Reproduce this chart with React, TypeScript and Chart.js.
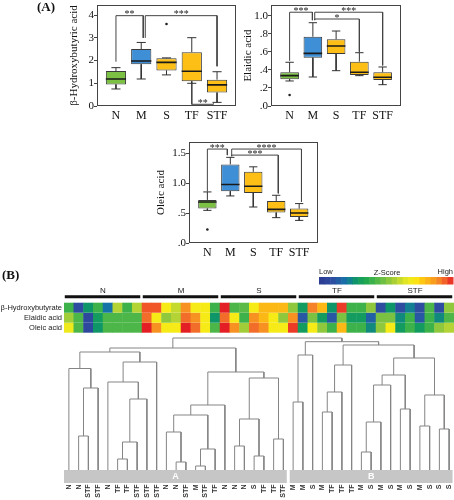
import React, { useEffect, useRef } from 'react';
import { Chart, registerables } from 'chart.js';

Chart.register(...registerables);

const SERIF = '"Liberation Serif", "Times New Roman", serif';
const SANS = '"Liberation Sans", Arial, sans-serif';

// ---------- Part A: box plots ----------
const GROUPS = ['N', 'M', 'S', 'TF', 'STF'];
const BOX_FILL = ['#7cc143', '#3f8fd6', '#fdbf16', '#fdbf16', '#fdbf16'];

// β-Hydroxybutyric acid
const HBA_LOW = [0.75, 1.19, 1.37, 1.0, 0.16];
const HBA_Q1 = [0.95, 1.84, 1.56, 1.09, 0.59];
const HBA_MED = [1.19, 1.98, 1.92, 1.53, 0.93];
const HBA_Q3 = [1.54, 2.51, 2.1, 2.37, 1.16];
const HBA_HIGH = [1.69, 2.8, 2.12, 3.01, 1.51];
const HBA_OUT_X = [2];
const HBA_OUT_Y = [3.61];
const HBA_TICKS = [0, 1, 2, 3, 4];
const HBA_BR_X1 = [0, 1.16, 3];
const HBA_BR_X2 = [1.08, 4, 3.86];
const HBA_BR_Y = [3.98, 3.98, 0.075];
const HBA_BR_END1 = [1.95, 3.0, 1.0];
const HBA_BR_END2 = [3.0, 1.75, 0.12];
const HBA_BR_TEXT = ['**', '***', '**'];

// Elaidic acid
const ELA_LOW = [0.277, 0.321, 0.391, 0.336, 0.236];
const ELA_Q1 = [0.295, 0.535, 0.576, 0.343, 0.288];
const ELA_MED = [0.336, 0.583, 0.664, 0.373, 0.318];
const ELA_Q3 = [0.373, 0.767, 0.738, 0.491, 0.373];
const ELA_HIGH = [0.484, 0.922, 0.83, 0.59, 0.432];
const ELA_OUT_X = [0];
const ELA_OUT_Y = [0.122];
const ELA_TICKS = [0, 0.2, 0.4, 0.6, 0.8, 1.0];
const ELA_BR_X1 = [0, 1.08, 1.08];
const ELA_BR_X2 = [0.98, 4.0, 3.0];
const ELA_BR_Y = [1.038, 1.038, 0.963];
const ELA_BR_END1 = [0.5, 0.95, 0.95];
const ELA_BR_END2 = [0.95, 0.45, 0.6];
const ELA_BR_TEXT = ['***', '***', '*'];

// Oleic acid
const OLE_LOW = [0.546, 0.787, 0.602, 0.424, 0.378];
const OLE_Q1 = [0.575, 0.866, 0.837, 0.508, 0.434];
const OLE_MED = [0.686, 0.978, 0.95, 0.563, 0.501];
const OLE_Q3 = [0.72, 1.314, 1.19, 0.703, 0.575];
const OLE_HIGH = [0.854, 1.432, 1.274, 0.798, 0.659];
const OLE_OUT_X = [0];
const OLE_OUT_Y = [0.227];
const OLE_TICKS = [0, 0.5, 1.0, 1.5];
const OLE_BR_X1 = [0, 1.06, 1.06];
const OLE_BR_X2 = [0.87, 4.1, 3.09];
const OLE_BR_Y = [1.571, 1.571, 1.47];
const OLE_BR_END1 = [0.86, 1.45, 1.45];
const OLE_BR_END2 = [1.47, 0.69, 0.83];
const OLE_BR_TEXT = ['***', '****', '***'];

// ---------- Part B: heatmap + dendrogram ----------
const HEAT_ROWS = ['β-Hydroxybutyrate', 'Elaidic acid', 'Oleic acid'];
const HEAT_GROUPS = ['N', 'M', 'S', 'TF', 'STF'];
const HBA_Z = [
  -0.4, -1.6, -0.9, -0.4, -1.2, 0.3, -0.4, 0.3,
  1.8, 1.8, 0.8, 0.4, 1.5, 0.8, 0.8, -0.4,
  2.0, -0.3, -0.2, 0.8, 1.2, 1.2, 1.2, 0.1,
  -0.8, 1.6, 1.2, -0.9, 1.9, -0.4, -0.4, 0.1,
  -1.6, -0.9, -1.6, -1.1, -1.6, -0.3, -1.6, 0.1,
];
const ELA_Z = [
  0.2, -0.3, -1.7, -0.8, -0.3, -0.3, -0.3, -0.3,
  1.7, 0.8, 0.1, 0.3, 1.7, 1.5, 0.8, -0.9,
  1.7, 0.8, -0.4, 1.5, 1.2, 0.8, 0.1, 1.5,
  -1.5, 0.0, -0.8, -1.5, 0.0, -0.8, -0.8, -1.4,
  0.0, 0.0, -1.0, -0.4, -1.5, -0.4, -1.0, -0.3,
];
const OLE_Z = [
  0.7, -0.3, -1.7, -0.9, -0.3, -0.3, -0.3, -0.3,
  2.0, 1.5, 0.8, 0.8, 2.0, 1.7, 0.8, -0.3,
  2.0, 1.5, 0.2, 1.7, 1.5, 0.8, 0.8, 1.9,
  -0.8, 0.8, 0.1, -0.4, 1.2, -0.4, -0.4, -1.0,
  0.1, 0.8, -0.8, -0.4, -0.8, -0.4, 0.1, 0.3,
];

const LEAF_LABELS = [
  'N', 'N', 'STF', 'STF', 'N', 'TF', 'TF', 'STF', 'STF', 'STF', 'N', 'N', 'STF', 'M', 'STF', 'TF',
  'N', 'N', 'N', 'S', 'TF', 'TF', 'STF',
  'M', 'M', 'S', 'M', 'TF', 'TF', 'TF', 'M', 'S', 'M', 'S', 'M', 'S', 'M', 'S', 'S', 'S',
];
// hclust-style merges: negative = leaf (-(index+1)), positive = earlier merge (1-based)
const MERGE_A = [-2, 1, -1, -6, 4, 5, -5, 7, 3, -12, -11, -14, 12, 11, 14, -18, -20, 16, -22, 18, 15, 9,
  -24, 23, -27, 25, 26, -31, 28, 29, -35, 30, -37, -39, 33, 32, 27, 24, 22];
const MERGE_B = [-3, -4, 2, -7, -8, -9, 6, -10, 8, -13, 10, -15, -16, 13, -17, -19, -21, 17, -23, 19, 20, 21,
  -25, -26, -28, -29, -30, -32, -33, -34, -36, 31, -38, -40, 34, 35, 36, 37, 38];
const MERGE_H = [34, 82, 101.5, 11, 28, 71, 88, 108, 118, 8, 38, 4, 21, 55, 65, 24, 14, 51, 31, 92, 98, 122,
  68, 115, 58, 78, 105, 18, 48, 85, 61, 95, 44, 41, 75, 112, 125, 128.3, 132];
const CLUSTER_NAMES = ['A', 'B'];
const CLUSTER_FIRST = [0, 23];
const CLUSTER_LAST = [22, 39];

// colour scale (style)
const CMAP_Z = [-2.0, -1.6, -1.2, -0.9, -0.6, -0.3, 0.0, 0.3, 0.6, 0.85, 1.1, 1.4, 1.65, 1.85, 2.0];
const CMAP_C = ['#2b3990', '#2e4da1', '#1673a8', '#0f9668', '#1fa84f', '#4cb748', '#7cc242', '#b4d334',
  '#e3e722', '#fbeb14', '#fdc412', '#f9a11b', '#f4792b', '#ef4a26', '#e31e25'];

function hexToRgb(h: string) {
  const n = parseInt(h.slice(1), 16);
  return [(n >> 16) & 255, (n >> 8) & 255, n & 255];
}
function colorFor(z: number) {
  const v = Math.max(CMAP_Z[0], Math.min(CMAP_Z[CMAP_Z.length - 1], z));
  let k = 0;
  while (k < CMAP_Z.length - 2 && v > CMAP_Z[k + 1]) k++;
  const t = (v - CMAP_Z[k]) / (CMAP_Z[k + 1] - CMAP_Z[k]);
  const a = hexToRgb(CMAP_C[k]);
  const b = hexToRgb(CMAP_C[k + 1]);
  const c = a.map((x, i) => Math.round(x + (b[i] - x) * t));
  return `rgb(${c[0]},${c[1]},${c[2]})`;
}

const decFmt = (v: number) => v.toFixed(1).replace(/^0\./, '.');
const intFmt = (v: number) => String(v);

type PanelSpec = {
  title: string;
  low: number[]; q1: number[]; med: number[]; q3: number[]; high: number[];
  outX: number[]; outY: number[];
  ticks: number[]; fmt: (v: number) => string;
  brX1: number[]; brX2: number[]; brY: number[]; brE1: number[]; brE2: number[]; brText: string[];
  area: { left: number; right: number; top: number; bottom: number };
  axisW: number; yMax: number; xMin: number; xMax: number;
};

const PANELS: PanelSpec[] = [
  {
    title: 'β-Hydroxybutyric acid', low: HBA_LOW, q1: HBA_Q1, med: HBA_MED, q3: HBA_Q3, high: HBA_HIGH,
    outX: HBA_OUT_X, outY: HBA_OUT_Y, ticks: HBA_TICKS, fmt: intFmt,
    brX1: HBA_BR_X1, brX2: HBA_BR_X2, brY: HBA_BR_Y, brE1: HBA_BR_END1, brE2: HBA_BR_END2, brText: HBA_BR_TEXT,
    area: { left: 97, right: 236, top: 5, bottom: 106 }, axisW: 31, yMax: 4.45, xMin: -0.75, xMax: 4.75,
  },
  {
    title: 'Elaidic acid', low: ELA_LOW, q1: ELA_Q1, med: ELA_MED, q3: ELA_Q3, high: ELA_HIGH,
    outX: ELA_OUT_X, outY: ELA_OUT_Y, ticks: ELA_TICKS, fmt: decFmt,
    brX1: ELA_BR_X1, brX2: ELA_BR_X2, brY: ELA_BR_Y, brE1: ELA_BR_END1, brE2: ELA_BR_END2, brText: ELA_BR_TEXT,
    area: { left: 271, right: 401, top: 5, bottom: 106 }, axisW: 31, yMax: 1.118, xMin: -0.8, xMax: 4.79,
  },
  {
    title: 'Oleic acid', low: OLE_LOW, q1: OLE_Q1, med: OLE_MED, q3: OLE_Q3, high: OLE_HIGH,
    outX: OLE_OUT_X, outY: OLE_OUT_Y, ticks: OLE_TICKS, fmt: decFmt,
    brX1: OLE_BR_X1, brX2: OLE_BR_X2, brY: OLE_BR_Y, brE1: OLE_BR_END1, brE2: OLE_BR_END2, brText: OLE_BR_TEXT,
    area: { left: 189, right: 318, top: 142, bottom: 243 }, axisW: 36, yMax: 1.689, xMin: -0.8, xMax: 4.82,
  },
];

const W = 454;
const H = 500;
const X_AXIS_H = 22;
const CAP = 0.18;
const HALF = 0.4;

function boxConfig(p: PanelSpec): any {
  const whisk: any[] = [];
  const med: any[] = [];
  GROUPS.forEach((_, i) => {
    whisk.push(
      { x: i, y: p.q3[i] }, { x: i, y: p.high[i] }, { x: i, y: null },
      { x: i - CAP, y: p.high[i] }, { x: i + CAP, y: p.high[i] }, { x: i, y: null },
      { x: i, y: p.q1[i] }, { x: i, y: p.low[i] }, { x: i, y: null },
      { x: i - CAP, y: p.low[i] }, { x: i + CAP, y: p.low[i] }, { x: i, y: null },
    );
    med.push({ x: i - HALF, y: p.med[i] }, { x: i + HALF, y: p.med[i] }, { x: i, y: null });
  });
  const br: any[] = [];
  p.brY.forEach((y, j) => {
    br.push({ x: p.brX1[j], y: p.brE1[j] }, { x: p.brX1[j], y }, { x: p.brX2[j], y },
      { x: p.brX2[j], y: p.brE2[j] }, { x: p.brX2[j], y: null });
  });
  const lineBase = { type: 'line', pointRadius: 0, spanGaps: false, tension: 0, fill: false };
  const framePlugin = {
    id: 'frameAndStars',
    afterDatasetsDraw(chart: any) {
      const { ctx, chartArea: a, scales } = chart;
      ctx.save();
      ctx.strokeStyle = '#444';
      ctx.lineWidth = 1;
      ctx.strokeRect(Math.round(a.left) + 0.5, Math.round(a.top) + 0.5,
        Math.round(a.right - a.left) - 1, Math.round(a.bottom - a.top) - 1);
      ctx.fillStyle = '#222';
      ctx.font = `10px ${SERIF}`;
      ctx.textAlign = 'center';
      ctx.textBaseline = 'alphabetic';
      p.brText.forEach((t, j) => {
        const px = scales.x.getPixelForValue((p.brX1[j] + p.brX2[j]) / 2);
        const py = scales.y.getPixelForValue(p.brY[j]);
        ctx.fillText(t, px, py + 1.5);
      });
      ctx.restore();
    },
  };
  return {
    type: 'bar',
    data: {
      datasets: [
        {
          type: 'bar', order: 2,
          data: GROUPS.map((_, i) => ({ x: i, y: [p.q1[i], p.q3[i]] })),
          backgroundColor: BOX_FILL, borderColor: '#3a3a3a', borderWidth: 1, borderSkipped: false,
          barPercentage: 0.8, categoryPercentage: 1, grouped: false,
        },
        { ...lineBase, order: 3, data: whisk, borderColor: '#333', borderWidth: 1 },
        { ...lineBase, order: 1, data: med, borderColor: '#1a1a1a', borderWidth: 1.6 },
        { ...lineBase, order: 4, data: br, borderColor: '#444', borderWidth: 1 },
        {
          type: 'line', order: 0, showLine: false,
          data: p.outX.map((x, i) => ({ x, y: p.outY[i] })),
          pointRadius: 1.3, pointBackgroundColor: '#222', pointBorderWidth: 0,
        },
      ],
    },
    options: {
      animation: false, responsive: false, devicePixelRatio: 1, events: [],
      layout: {
        padding: {
          left: p.area.left - p.axisW, top: p.area.top,
          right: W - p.area.right, bottom: H - p.area.bottom - X_AXIS_H,
        },
      },
      plugins: { legend: { display: false }, tooltip: { enabled: false } },
      scales: {
        x: {
          type: 'linear', min: p.xMin, max: p.xMax, offset: false,
          afterBuildTicks: (s: any) => { s.ticks = GROUPS.map((_, i) => ({ value: i })); },
          afterFit: (s: any) => { s.height = X_AXIS_H; s.paddingLeft = 0; s.paddingRight = 0; },
          ticks: {
            callback: (v: number) => GROUPS[v], font: { family: SERIF, size: 12 }, color: '#111',
            padding: 3, maxRotation: 0, autoSkip: false,
          },
          grid: { display: false, drawTicks: false },
          border: { display: false },
        },
        y: {
          type: 'linear', min: 0, max: p.yMax,
          afterBuildTicks: (s: any) => { s.ticks = p.ticks.map((v) => ({ value: v })); },
          afterFit: (s: any) => { s.width = p.axisW; s.paddingTop = 0; s.paddingBottom = 0; },
          ticks: { callback: (v: number) => p.fmt(v), font: { family: SERIF, size: 11 }, color: '#111', padding: 0 },
          grid: { display: true, drawOnChartArea: false, drawTicks: true, tickLength: 3, color: '#444' },
          border: { display: false },
          title: {
            display: true, text: p.title, font: { family: SERIF, size: 11 }, color: '#111',
            padding: { top: 2, bottom: 0 },
          },
        },
      },
    },
    plugins: [framePlugin],
  };
}

// part B geometry (pixel layout)
const B_LEFT = 64;
const B_TOP = 270;
const B_BOTTOM = 470;
const HEAT_BASE = 137.3;
const HEAT_ROW_H = 10;
const GROUP_BAR_Y = 173.3;

function heatConfig(): any {
  const zRows = [HBA_Z, ELA_Z, OLE_Z];
  const heatSets = zRows.map((zs, r) => {
    const lo = HEAT_BASE + (2 - r) * HEAT_ROW_H;
    return {
      type: 'bar', order: 3,
      data: zs.map((_, i) => ({ x: i, y: [lo, lo + HEAT_ROW_H] })),
      backgroundColor: zs.map(colorFor), borderWidth: 0,
      barPercentage: 1.05, categoryPercentage: 1, grouped: false,
    };
  });
  // dendrogram segments built from the merge table
  const pos: number[] = [];
  const hts: number[] = [];
  const seg: any[] = [];
  const gx = (k: number) => (k < 0 ? -k - 1 : pos[k - 1]);
  const gh = (k: number) => (k < 0 ? 0 : hts[k - 1]);
  MERGE_H.forEach((h, m) => {
    const a = MERGE_A[m];
    const b = MERGE_B[m];
    const xa = gx(a), xb = gx(b);
    seg.push({ x: xa, y: gh(a) }, { x: xa, y: h }, { x: xb, y: h }, { x: xb, y: gh(b) }, { x: xb, y: null });
    pos.push((xa + xb) / 2);
    hts.push(h);
  });
  const gbar: any[] = [];
  HEAT_GROUPS.forEach((_, g) => {
    gbar.push({ x: Math.max(-0.5, g * 8 - 0.42), y: GROUP_BAR_Y }, { x: Math.min(39.5, g * 8 + 7.32), y: GROUP_BAR_Y },
      { x: g * 8 + 7.4, y: null });
  });
  const lineBase = { type: 'line', pointRadius: 0, spanGaps: false, tension: 0, fill: false };

  const decor = {
    id: 'heatDecor',
    afterDraw(chart: any) {
      const { ctx, scales } = chart;
      const xs = scales.x;
      const ys = scales.y;
      ctx.save();
      // titles
      ctx.fillStyle = '#111';
      ctx.font = `bold 13px ${SERIF}`;
      ctx.textAlign = 'left';
      ctx.textBaseline = 'alphabetic';
      ctx.fillText('(A)', 37, 11);
      ctx.fillText('(B)', 2, 279);
      // colour bar
      const cbL = 319, cbR = 453, cbT = 277, cbH = 7.5, n = 24;
      for (let k = 0; k < n; k++) {
        const z = -2 + (4 * (k + 0.5)) / n;
        ctx.fillStyle = colorFor(z);
        const x0 = cbL + ((cbR - cbL) * k) / n;
        ctx.fillRect(x0, cbT, (cbR - cbL) / n + 0.5, cbH);
      }
      ctx.fillStyle = '#222';
      ctx.font = `7.5px ${SANS}`;
      ctx.textAlign = 'left';
      ctx.fillText('Low', cbL, 273.5);
      ctx.textAlign = 'center';
      ctx.fillText('Z-Score', 387, 275);
      ctx.textAlign = 'right';
      ctx.fillText('High', cbR, 273.5);
      // group labels
      ctx.font = `8px ${SANS}`;
      ctx.textAlign = 'center';
      ctx.fillStyle = '#222';
      HEAT_GROUPS.forEach((g, k) => {
        ctx.fillText(g, xs.getPixelForValue(k * 8 + 3.5), ys.getPixelForValue(GROUP_BAR_Y) - 3.5);
      });
      // row labels
      ctx.font = `7.5px ${SANS}`;
      ctx.textAlign = 'right';
      ctx.textBaseline = 'middle';
      HEAT_ROWS.forEach((r, k) => {
        const c = HEAT_BASE + (2 - k) * HEAT_ROW_H + HEAT_ROW_H / 2;
        ctx.fillText(r, B_LEFT - 2, ys.getPixelForValue(c));
      });
      // cluster bars
      const barTop = B_BOTTOM;
      const barH = 13;
      CLUSTER_NAMES.forEach((nm, k) => {
        const x0 = xs.getPixelForValue(CLUSTER_FIRST[k] - (k === 0 ? 0.5 : 0.35));
        const x1 = xs.getPixelForValue(CLUSTER_LAST[k] + (k === 0 ? 0.35 : 0.35));
        ctx.fillStyle = '#c6c6c6';
        ctx.fillRect(x0, barTop, x1 - x0, barH);
        ctx.fillStyle = '#ffffff';
        ctx.font = `bold 9px ${SANS}`;
        ctx.textAlign = 'center';
        ctx.textBaseline = 'middle';
        ctx.fillText(nm, (x0 + x1) / 2, barTop + barH / 2 + 0.5);
      });
      // leaf labels
      ctx.fillStyle = '#333';
      ctx.font = `bold 7px ${SANS}`;
      LEAF_LABELS.forEach((lab, i) => {
        ctx.save();
        ctx.translate(xs.getPixelForValue(i), barTop + barH + 1.5);
        ctx.rotate(-Math.PI / 2);
        ctx.textAlign = 'right';
        ctx.textBaseline = 'middle';
        ctx.fillText(lab, 0, 0);
        ctx.restore();
      });
      ctx.restore();
    },
  };

  return {
    type: 'bar',
    data: {
      datasets: [
        ...heatSets,
        { ...lineBase, order: 1, data: seg, borderColor: '#858585', borderWidth: 1 },
        { ...lineBase, order: 0, data: gbar, borderColor: '#111', borderWidth: 3, borderCapStyle: 'butt' },
      ],
    },
    options: {
      animation: false, responsive: false, devicePixelRatio: 1, events: [],
      layout: { padding: { left: B_LEFT, top: B_TOP, right: 0, bottom: H - B_BOTTOM } },
      plugins: { legend: { display: false }, tooltip: { enabled: false } },
      scales: {
        x: { type: 'linear', min: -0.5, max: 39.5, offset: false, display: false },
        y: { type: 'linear', min: 0, max: B_BOTTOM - B_TOP, display: false },
      },
    },
    plugins: [decor],
  };
}

function ChartCanvas({ make }: { make: () => any }) {
  const ref = useRef<HTMLCanvasElement>(null);
  useEffect(() => {
    const chart = new Chart(ref.current as HTMLCanvasElement, make());
    return () => chart.destroy();
  }, []);
  return (
    <canvas
      ref={ref}
      width={W}
      height={H}
      style={{ position: 'absolute', left: 0, top: 0, width: W, height: H }}
    />
  );
}

export default function App() {
  return (
    <div style={{ position: 'fixed', left: 0, top: 0, width: W, height: H, background: '#fff', overflow: 'hidden' }}>
      <ChartCanvas make={() => boxConfig(PANELS[0])} />
      <ChartCanvas make={() => boxConfig(PANELS[1])} />
      <ChartCanvas make={() => boxConfig(PANELS[2])} />
      <ChartCanvas make={heatConfig} />
    </div>
  );
}
